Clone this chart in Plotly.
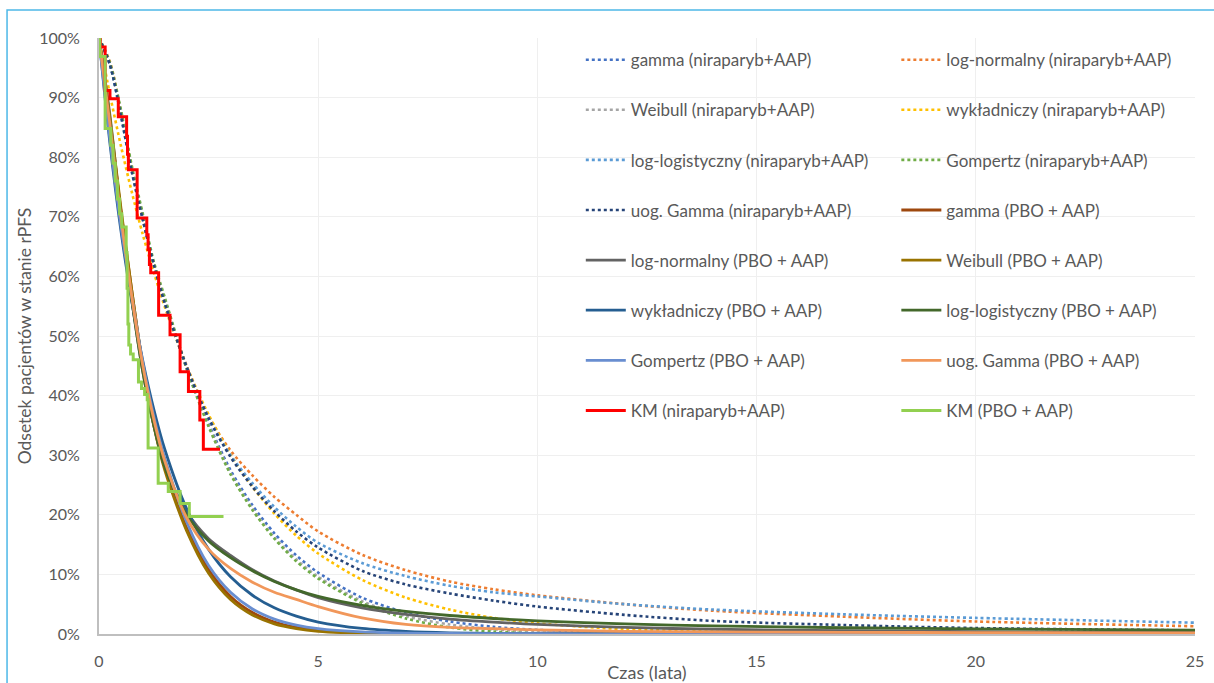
import plotly.graph_objects as go

# Time grid (years) for the fitted survival curves
T = [0, 0.25, 0.5, 0.75, 1, 1.25, 1.5, 2, 2.5, 3, 3.5, 4, 4.5, 5, 6, 7, 8, 9, 10, 12, 14, 17, 20, 25]

# Fitted rPFS curves, niraparyb + AAP (%)
gamma_nira = [100, 95.5, 87.5, 78, 70, 62, 56, 44.6, 35.3, 27.5, 21.6, 16.9, 13.2, 10.3, 6.1, 3.6, 2.1, 1.2, 0.7, 0.25, 0.08, 0.02, 0, 0]
lognorm_nira = [100, 96, 87.5, 78, 69.5, 62, 55.5, 45, 36.5, 30.8, 26.6, 23, 20, 17.2, 13.3, 10.7, 8.8, 7.5, 6.5, 5.0, 3.9, 2.9, 2.1, 1.3]
weibull_nira = [100, 95.5, 87.5, 78, 70, 62, 56, 44.5, 35, 27, 21, 16.2, 12.5, 9.6, 5.5, 3.0, 1.6, 0.8, 0.4, 0.1, 0, 0, 0, 0]
exp_nira = [100, 90.5, 81.9, 74.1, 67.0, 60.7, 54.9, 44.9, 36.8, 30.1, 24.7, 20.2, 16.5, 13.5, 9.1, 6.1, 4.1, 2.7, 1.8, 0.8, 0.4, 0.1, 0.03, 0]
loglog_nira = [100, 95.5, 87, 77.5, 69.5, 62, 55.5, 44.8, 36.3, 30.0, 25.3, 21.3, 18.0, 15.3, 11.9, 9.7, 8.1, 7.0, 6.3, 5.0, 4.1, 3.3, 2.7, 1.9]
gompertz_nira = [100, 95.8, 88, 78.5, 70.5, 62.5, 56.5, 44.5, 34.8, 26.8, 20.8, 16, 12.2, 9.3, 5.2, 2.6, 1.1, 0.4, 0.1, 0, 0, 0, 0, 0]
gengamma_nira = [100, 95.5, 87, 77.5, 69.5, 62, 55.5, 44.8, 36.2, 29.7, 24.7, 20.6, 17.2, 14.5, 10.6, 8.3, 6.8, 5.6, 4.6, 3.2, 2.2, 1.5, 1.0, 0.6]

# Fitted rPFS curves, PBO + AAP (%)
gamma_pbo = [100, 86, 71, 57.5, 45, 35.5, 28, 17.8, 10.8, 6.3, 3.6, 2.0, 1.1, 0.6, 0.17, 0.05, 0.01, 0, 0, 0, 0, 0, 0, 0]
lognorm_pbo = [100, 87, 70.5, 56, 44, 35, 28, 20.5, 16, 13.2, 10.8, 8.9, 7.4, 6.1, 4.4, 3.3, 2.5, 2.0, 1.6, 1.1, 0.8, 0.55, 0.4, 0.25]
weibull_pbo = [100, 86.5, 71.5, 57.5, 45, 35, 27.5, 17.3, 10.2, 5.8, 3.2, 1.7, 0.9, 0.45, 0.12, 0.03, 0, 0, 0, 0, 0, 0, 0, 0]
exp_pbo = [100, 82.3, 67.7, 55.7, 45.8, 37.7, 31.0, 21.0, 14.2, 9.6, 6.5, 4.4, 3.0, 2.0, 0.93, 0.43, 0.19, 0.09, 0.04, 0.01, 0, 0, 0, 0]
loglog_pbo = [100, 85.5, 70, 56, 44, 35, 28, 20, 15.6, 12.8, 10.6, 8.8, 7.4, 6.3, 4.8, 3.8, 3.1, 2.6, 2.2, 1.7, 1.35, 1.05, 0.85, 0.65]
gompertz_pbo = [100, 83, 68.5, 56.5, 45.5, 36.5, 29.5, 18.8, 11.5, 7.0, 4.2, 2.5, 1.5, 0.9, 0.35, 0.15, 0.08, 0.05, 0.04, 0.03, 0.03, 0.03, 0.03, 0.03]
gengamma_pbo = [100, 85.5, 70, 56.5, 45, 36, 29, 19.5, 14.2, 11.0, 8.7, 7.0, 5.8, 4.6, 2.7, 1.6, 1.1, 0.9, 0.7, 0.45, 0.35, 0.28, 0.24, 0.2]

# Kaplan-Meier estimates (step functions)
km_nira_t = [0, 0.03, 0.14, 0.25, 0.44, 0.63, 0.65, 0.67, 0.87, 1.09, 1.12, 1.15, 1.18, 1.36, 1.62, 1.85, 2.04, 2.30, 2.38, 2.76]
km_nira_s = [100, 98.5, 91.2, 89.8, 86.8, 83.5, 80.5, 77.9, 69.8, 67.0, 64.5, 62.0, 60.6, 53.5, 50.2, 44.0, 40.7, 35.9, 31.0, 31.0]
km_pbo_t = [0, 0.02, 0.14, 0.27, 0.32, 0.37, 0.42, 0.47, 0.52, 0.62, 0.64, 0.66, 0.68, 0.72, 0.78, 0.90, 0.97, 1.04, 1.10, 1.12, 1.35, 1.58, 1.85, 2.06, 2.84]
km_pbo_s = [100, 96.9, 84.8, 82, 79, 76, 73, 70.5, 68.3, 64, 58, 52, 48.5, 47, 46, 42.3, 41.2, 40.2, 39.3, 31.2, 25.3, 23.9, 21.9, 19.7, 19.7]

series = [
    ("gamma (niraparyb+AAP)", gamma_nira, "#4472C4", "dot", "legend"),
    ("log-normalny (niraparyb+AAP)", lognorm_nira, "#ED7D31", "dot", "legend2"),
    ("Weibull (niraparyb+AAP)", weibull_nira, "#A5A5A5", "dot", "legend"),
    ("wykładniczy (niraparyb+AAP)", exp_nira, "#FFC000", "dot", "legend2"),
    ("log-logistyczny (niraparyb+AAP)", loglog_nira, "#5B9BD5", "dot", "legend"),
    ("Gompertz (niraparyb+AAP)", gompertz_nira, "#70AD47", "dot", "legend2"),
    ("uog. Gamma (niraparyb+AAP)", gengamma_nira, "#264478", "dot", "legend"),
    ("gamma (PBO + AAP)", gamma_pbo, "#9E480E", "solid", "legend2"),
    ("log-normalny (PBO + AAP)", lognorm_pbo, "#636363", "solid", "legend"),
    ("Weibull (PBO + AAP)", weibull_pbo, "#997300", "solid", "legend2"),
    ("wykładniczy (PBO + AAP)", exp_pbo, "#255E91", "solid", "legend"),
    ("log-logistyczny (PBO + AAP)", loglog_pbo, "#43682B", "solid", "legend2"),
    ("Gompertz (PBO + AAP)", gompertz_pbo, "#698ED0", "solid", "legend"),
    ("uog. Gamma (PBO + AAP)", gengamma_pbo, "#F1975A", "solid", "legend2"),
]

fig = go.Figure()
for name, vals, color, dash, leg in series:
    fig.add_trace(go.Scatter(
        x=T, y=[v / 100 for v in vals], name=name, mode="lines",
        line=dict(color=color, width=2.6 if dash == "dot" else 2.8, dash=dash,
                  shape="spline", smoothing=0.8),
        legend=leg, legendgroup=name,
    ))

fig.add_trace(go.Scatter(
    x=km_nira_t, y=[v / 100 for v in km_nira_s], name="KM (niraparyb+AAP)",
    mode="lines", line=dict(color="#FF0000", width=3, shape="hv"),
    legend="legend", legendgroup="KM (niraparyb+AAP)",
))
fig.add_trace(go.Scatter(
    x=km_pbo_t, y=[v / 100 for v in km_pbo_s], name="KM (PBO + AAP)",
    mode="lines", line=dict(color="#92D050", width=3, shape="hv"),
    legend="legend2", legendgroup="KM (PBO + AAP)",
))

font_col = "#595959"
legend_common = dict(
    bgcolor="rgba(0,0,0,0)", font=dict(family="Lato", size=17, color=font_col),
    tracegroupgap=25, itemwidth=40, yanchor="top", xanchor="left",
)

fig.update_layout(
    width=1214, height=683,
    margin=dict(l=99, r=19, t=38, b=49),
    paper_bgcolor="white", plot_bgcolor="white",
    font=dict(family="Lato", color=font_col),
    legend=dict(x=0.4396, y=0.993, **legend_common),
    legend2=dict(x=0.7275, y=0.993, **legend_common),
    xaxis=dict(
        range=[0, 25], tickvals=[0, 5, 10, 15, 20, 25],
        showgrid=True, gridcolor="#EFEFEF", gridwidth=1,
        showline=True, linecolor="#BFBFBF", linewidth=2,
        zeroline=False, ticks="", ticklabelstandoff=12, automargin=False,
        tickfont=dict(size=16, color=font_col),
        title=dict(text="Czas (lata)", font=dict(size=18, color=font_col), standoff=4),
    ),
    yaxis=dict(
        range=[0, 1], dtick=0.1, tickformat=".0%",
        showgrid=True, gridcolor="#EFEFEF", gridwidth=1,
        showline=True, linecolor="#BFBFBF", linewidth=2,
        zeroline=False, ticks="", ticklabelstandoff=14, automargin=False,
        tickfont=dict(size=16, color=font_col),
        title=dict(text="Odsetek pacjentów w stanie rPFS", font=dict(size=17.5, color=font_col), standoff=3),
    ),
    shapes=[dict(
        type="rect", xref="paper", yref="paper",
        x0=-0.0839, x1=1.03, y0=-0.2, y1=1.047,
        line=dict(color="#4DB8E8", width=1.5), fillcolor="rgba(0,0,0,0)", layer="below",
    )],
)

fig.write_html("out.html")
